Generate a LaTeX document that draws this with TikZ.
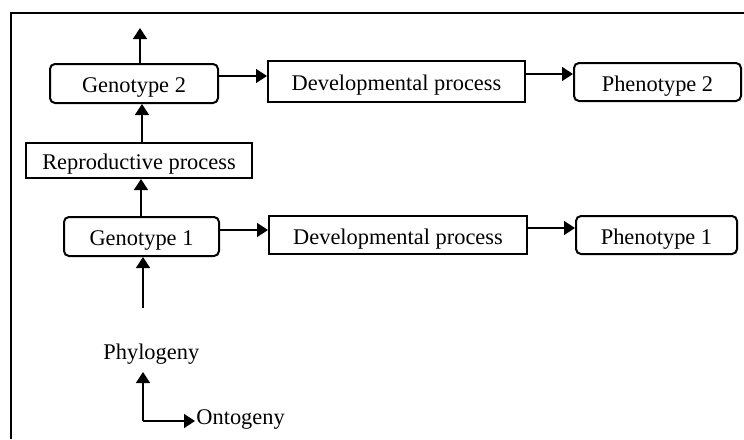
\documentclass[tikz,border=0pt]{standalone}
\usepackage{fontspec}
\setmainfont{Liberation Serif}
\usetikzlibrary{arrows.meta}
\begin{document}
\begin{tikzpicture}[x=0.5pt,y=-0.5pt,
  font=\fontsize{11.2pt}{13pt}\selectfont,
  boxtext/.style={inner sep=0pt,text height=9.2pt,text depth=0pt},
  genobox/.style={draw,line width=1pt,rounded corners=2.5pt,boxtext},
  procbox/.style={draw,line width=1pt,boxtext},
  arr/.style={line width=0.7pt,-{Triangle[length=5.5pt,width=7pt]}},
  axislabel/.style={inner sep=0pt,anchor=base west}]
  \useasboundingbox (0,0) rectangle (744,439);

  % open frame: top and left edges only
  \draw[line width=0.9pt] (11,439) -- (11,13) -- (744,13);

  % second generation
  \node[genobox,minimum width=84pt,minimum height=19.5pt] (g2) at (134,83.5) {Genotype 2};
  \node[procbox,minimum width=128.5pt,minimum height=20.5pt] (d2) at (396.5,81.5) {Developmental process};
  \node[genobox,minimum width=83.5pt,minimum height=19pt] (p2) at (657.5,82) {Phenotype 2};

  % reproduction
  \node[procbox,minimum width=113pt,minimum height=17.5pt] (rp) at (139,160.5) {Reproductive process};

  % first generation
  \node[genobox,minimum width=77.5pt,minimum height=19.5pt] (g1) at (141.5,236.5) {Genotype 1};
  \node[procbox,minimum width=129pt,minimum height=19pt] (d1) at (398,235) {Developmental process};
  \node[genobox,minimum width=80.5pt,minimum height=19pt] (p1) at (656.5,235) {Phenotype 1};

  % helper coordinates for connector lines
  \coordinate (top) at (140,28);
  \coordinate (colA) at (142,0);
  \coordinate (colB) at (141,0);
  \coordinate (src) at (143,308);
  \coordinate (rowA) at (0,76);
  \coordinate (rowB) at (0,74);
  \coordinate (rowC) at (0,230);
  \coordinate (rowD) at (0,228);

  % vertical lineage
  \draw[arr] (top |- g2.north) -- (top);
  \draw[arr] (colA |- rp.north) -- (colA |- g2.south);
  \draw[arr] (colB |- g1.north) -- (colB |- rp.south);
  \draw[arr] (src) -- (src |- g1.south);

  % development
  \draw[arr] (g2.east |- rowA) -- (d2.west |- rowA);
  \draw[arr] (d2.east |- rowB) -- (p2.west |- rowB);
  \draw[arr] (g1.east |- rowC) -- (d1.west |- rowC);
  \draw[arr] (d1.east |- rowD) -- (p1.west |- rowD);

  % axes legend
  \coordinate (origin) at (143,421);
  \coordinate (up) at (143,372);
  \coordinate (right) at (195,421);
  \draw[arr] (origin) -- (up);
  \draw[arr] (origin) -- (right);
  \node[axislabel] (phy) at (103,359) {Phylogeny};
  \node[axislabel] (ont) at (196,424) {Ontogeny};
\end{tikzpicture}
\end{document}
